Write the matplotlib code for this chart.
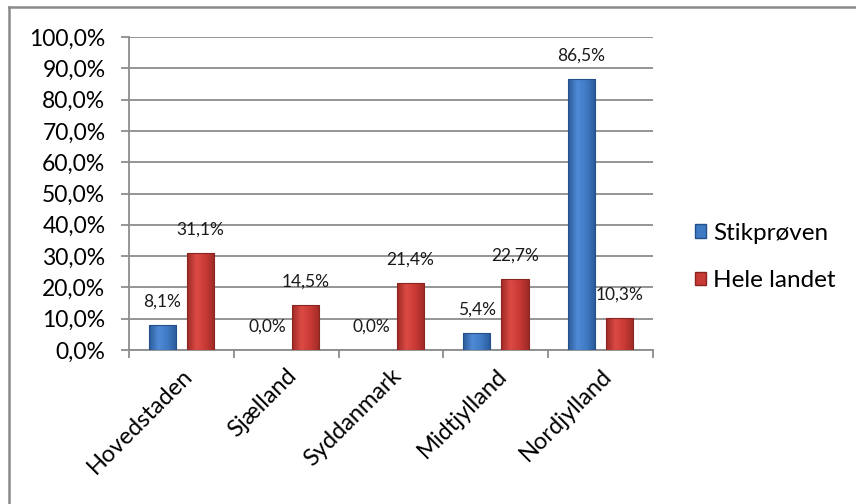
import numpy as np
import matplotlib.pyplot as plt
from matplotlib.colors import LinearSegmentedColormap
from matplotlib.patches import Patch
from matplotlib.lines import Line2D

plt.rcParams['font.family'] = ['Lato', 'DejaVu Sans']

regions = ['Hovedstaden', 'Sjælland', 'Syddanmark', 'Midtjylland', 'Nordjylland']
stikproeven = [8.1, 0.0, 0.0, 5.4, 86.5]
hele_landet = [31.1, 14.5, 21.4, 22.7, 10.3]
series_names = ['Stikprøven', 'Hele landet']

blue_cmap = LinearSegmentedColormap.from_list('blue_bar', ['#2a5a98', '#4f8ad6', '#3f7ac4', '#2a5a98'])
red_cmap = LinearSegmentedColormap.from_list('red_bar', ['#9e2a26', '#dc4a45', '#c83a35', '#9e2a26'])

fig = plt.figure(figsize=(8.56, 5.04), dpi=100)
ax = fig.add_axes([129 / 856, 1 - 350 / 504, (653 - 129) / 856, (350 - 37) / 504])

x = np.arange(len(regions))
width = 0.26
offset = 0.183
grad = np.linspace(0, 1, 64).reshape(1, -1)


def shaded_bars(xpos, values, cmap, edge):
    bars = ax.bar(xpos, values, width, color='none', edgecolor='none', zorder=3)
    for bar in bars:
        h = bar.get_height()
        if h <= 0:
            continue
        x0 = bar.get_x()
        im = ax.imshow(grad, cmap=cmap, extent=[x0, x0 + width, 0, h],
                       aspect='auto', zorder=3, interpolation='bicubic')
        im.set_clip_path(bar)
        ax.add_patch(plt.Rectangle((x0, 0), width, h, fill=False,
                                   edgecolor=edge, linewidth=0.8, zorder=4))
    return bars


shaded_bars(x - offset, stikproeven, blue_cmap, '#24508a')
shaded_bars(x + offset, hele_landet, red_cmap, '#8a2420')

# value labels above each bar
for xs, vals in ((x - offset, stikproeven), (x + offset, hele_landet)):
    for xi, v in zip(xs, vals):
        ax.annotate(f'{v:.1f}%'.replace('.', ','), (xi, v), xytext=(0, 11),
                    textcoords='offset points', ha='center', va='bottom',
                    fontsize=12.5, color='#1a1a1a', zorder=5)

ax.set_xlim(-0.5, len(regions) - 0.5)
ax.set_ylim(0, 100)
ax.set_yticks(np.arange(0, 101, 10))
ax.set_yticklabels([f'{t:.1f}%'.replace('.', ',') for t in np.arange(0, 101, 10)], fontsize=16.5)
ax.yaxis.grid(True, color='#8c8c8c', linewidth=1.3, zorder=0)
ax.set_axisbelow(True)

# category boundaries as ticks, names in between
ax.set_xticks(np.arange(-0.5, len(regions)), minor=False)
ax.set_xticklabels([])
ax.set_xticks(x, minor=True)
ax.set_xticklabels(regions, minor=True, rotation=45, ha='right', va='top',
                   rotation_mode='anchor', fontsize=17)
ax.tick_params(axis='x', which='major', length=6, width=1.3, color='#8c8c8c')
ax.tick_params(axis='x', which='minor', length=0, pad=11)
ax.tick_params(axis='y', length=6, width=1.3, color='#8c8c8c', pad=11)

for s in ('top', 'right'):
    ax.spines[s].set_visible(False)
for s in ('left', 'bottom'):
    ax.spines[s].set_color('#8c8c8c')
    ax.spines[s].set_linewidth(1.3)

handles = [Patch(facecolor='#3f7ac4', edgecolor='#24508a'),
           Patch(facecolor='#c83a35', edgecolor='#8a2420')]
fig.legend(handles, series_names, loc='center left', bbox_to_anchor=(695 / 856, 1 - 257 / 504),
           frameon=False, fontsize=17.5, handlelength=0.45, handleheight=0.45,
           handletextpad=0.3, labelspacing=1.1, borderpad=0, borderaxespad=0)

# outer frame
fig.add_artist(Line2D([9 / 856, 9 / 856], [0, 1 - 7 / 504], color='#8a8a8a', linewidth=1.8))
fig.add_artist(Line2D([9 / 856, 1], [1 - 7 / 504, 1 - 7 / 504], color='#8a8a8a', linewidth=1.8))

fig.savefig('out.png', dpi=100)
